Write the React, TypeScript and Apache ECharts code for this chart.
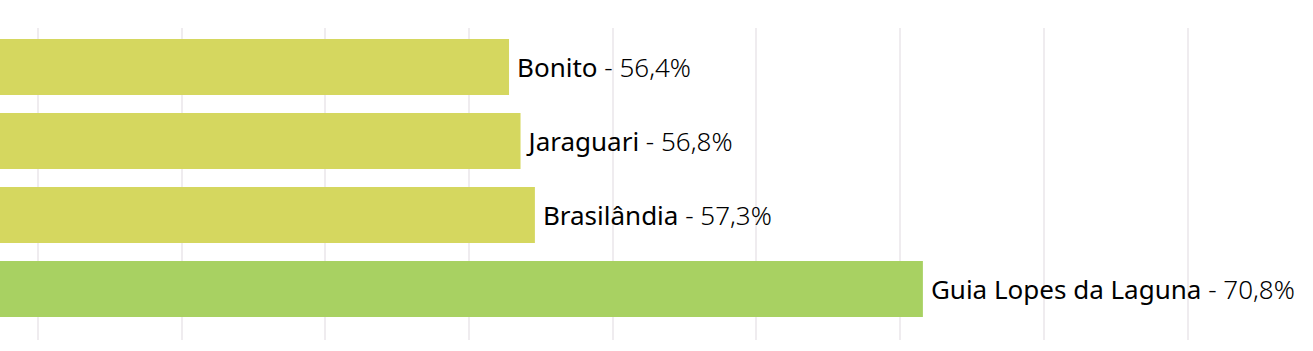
import React, { useEffect, useRef } from "react";
import * as echarts from "echarts";

const municipios = ["Bonito", "Jaraguari", "Brasilândia", "Guia Lopes da Laguna"];
const valores = [56.4, 56.8, 57.3, 70.8];
const cores = ["#d5d75f", "#d5d75f", "#d5d75f", "#a8d162"];

export default function App() {
  const ref = useRef<HTMLDivElement>(null);
  useEffect(() => {
    if (!ref.current) return;
    const chart = echarts.init(ref.current, undefined, { renderer: "svg" });
    const fmt = (v: number) => v.toFixed(1).replace(".", ",") + "%";
    chart.setOption({
      animation: false,
      backgroundColor: "#ffffff",
      grid: [
        { left: 0, right: 0, top: 30, height: 296 },
        { left: 0, right: 0, top: 28, height: 312 },
      ],
      xAxis: [
        {
          gridIndex: 0,
          type: "value",
          min: 35,
          max: 85,
          interval: 5,
          axisLabel: { show: false },
          axisLine: { show: false },
          axisTick: { show: false },
          splitLine: { show: false },
        },
        {
          gridIndex: 1,
          type: "value",
          min: 35,
          max: 85,
          interval: 5,
          axisLabel: { show: false },
          axisLine: { show: false },
          axisTick: { show: false },
          splitLine: { show: true, lineStyle: { color: "#efecef", width: 2 } },
        },
      ],
      yAxis: [
        {
          gridIndex: 0,
          type: "category",
          data: municipios,
          inverse: true,
          axisLabel: { show: false },
          axisLine: { show: false },
          axisTick: { show: false },
        },
        {
          gridIndex: 1,
          type: "category",
          data: municipios,
          inverse: true,
          axisLabel: { show: false },
          axisLine: { show: false },
          axisTick: { show: false },
        },
      ],
      series: [
        {
          type: "bar",
          xAxisIndex: 0,
          yAxisIndex: 0,
          barCategoryGap: "24.3%",
          data: valores.map((v, i) => ({ value: v, itemStyle: { color: cores[i] } })),
          label: {
            show: true,
            position: "right",
            distance: 8,
            fontFamily: "Noto Sans",
            formatter: (p: any) => `{n|${municipios[p.dataIndex]}}{v| - ${fmt(p.value)}}`,
            rich: {
              n: { fontFamily: "Noto Sans", fontSize: 26, fontWeight: 400, color: "#000000" },
              v: { fontFamily: "Noto Sans", fontSize: 26, fontWeight: 300, color: "#000000" },
            },
          },
        },
      ],
    });
    return () => chart.dispose();
  }, []);
  return (
    <div style={{ position: "fixed", left: 0, top: 0, width: 1313, height: 351, overflow: "hidden", background: "#fff" }}>
      <div ref={ref} style={{ position: "absolute", left: -106, top: 0, width: 1437, height: 351 }} />
    </div>
  );
}
